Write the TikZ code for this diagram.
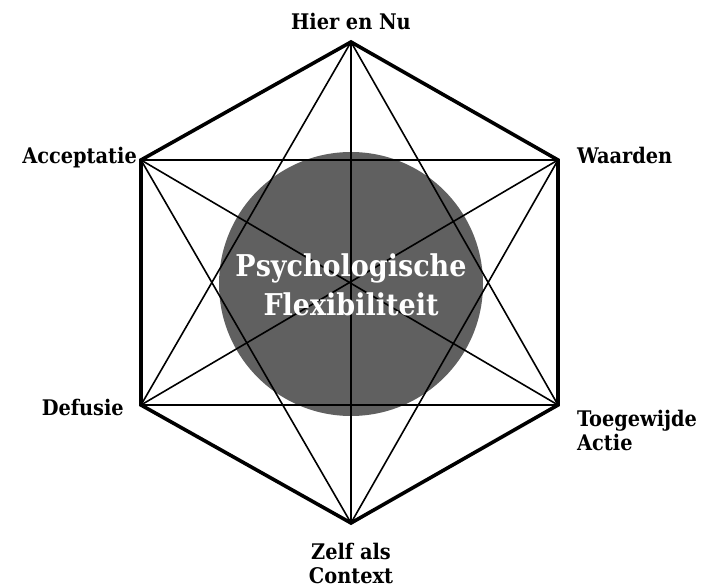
\documentclass[tikz,border=0pt]{standalone}
\usepackage{fontspec}
\setmainfont{DejaVu Serif Condensed}
\begin{document}
\begin{tikzpicture}[x=1pt,y=-1pt,
  thin line/.style={line width=1.6pt},
  thick line/.style={line width=3.6pt,line join=miter},
  lbl/.style={font=\bfseries\fontsize{21.5}{24}\selectfont,inner sep=0pt}]
\useasboundingbox (0,0) rectangle (702,588);
\fill[fill={rgb,255:red,96;green,96;blue,96}] (351,284) circle (132);
\coordinate (T) at (351,42);
\coordinate (UR) at (558,160);
\coordinate (LR) at (558,405);
\coordinate (B) at (351,523);
\coordinate (LL) at (141,405);
\coordinate (UL) at (141,160);
\foreach \a/\b in {T/B,T/LL,T/LR,UL/UR,LL/LR,UL/LR,UR/LL,UL/B,UR/B,UL/LL,UR/LR,T/UL,T/UR,LL/B,LR/B}
  \draw[thin line] (\a) -- (\b);
\draw[thick line] (T) -- (UR) -- (LR) -- (B) -- (LL) -- (UL) -- cycle;
\node[font=\bfseries\fontsize{30}{39}\selectfont,text=white,align=center,inner sep=0pt] (center) at (351,285) {Psychologische\\Flexibiliteit};
\node[lbl,anchor=base] (hier) at (351,30) {Hier en Nu};
\node[lbl,anchor=base east] (acc) at (137,164) {Acceptatie};
\node[lbl,anchor=base west] (waa) at (577,164) {Waarden};
\node[lbl,anchor=base east] (def) at (124,415) {Defusie};
\node[lbl,anchor=base west,align=left] (toe) at (577,450) {Toegewijde\\Actie};
\node[lbl,anchor=base,align=center] (zel) at (351,583) {Zelf als\\Context};
\end{tikzpicture}
\end{document}
